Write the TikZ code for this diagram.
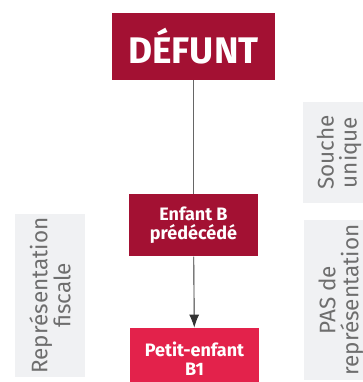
\documentclass[tikz,border=0pt]{standalone}
\usepackage{fontspec}
\setmainfont{Fira Sans}
\usetikzlibrary{arrows.meta,positioning}

\definecolor{bordeaux}{HTML}{A31133}
\definecolor{framboise}{HTML}{E3224B}
\definecolor{grisfond}{HTML}{F0F1F3}
\definecolor{gristexte}{HTML}{6E6E6E}

\begin{document}
\begin{tikzpicture}[
  x=1pt, y=1pt,
  node distance=114pt,
  titre/.style={rectangle, fill=bordeaux, text=white, inner sep=0pt, minimum width=163pt, minimum height=67pt, font=\fontsize{37}{42}\selectfont\bfseries},
  heritier/.style={rectangle, fill=#1, text=white, inner sep=0pt, minimum width=129pt, minimum height=62pt, align=center, font=\fontsize{18}{18.5}\selectfont\bfseries},
  mention/.style={rectangle, fill=grisfond, text=gristexte, inner sep=0pt, rotate=90, align=center, font=\fontsize{22.5}{23}\selectfont},
  lien/.style={draw=black!60, line width=0.9pt},
  fleche/.style={draw=black!80, line width=0.9pt, -{Latex[length=13pt, width=10pt]}}
]
\useasboundingbox (0,0) rectangle (363,-382);
\clip (0,0) rectangle (363,-382);

%% Lignee
\node[titre] (defunt) at (193.5,-46.5) {DÉFUNT};
\node[heritier=bordeaux, below=of defunt] (enfantB) {Enfant B\\prédécédé};
\node[heritier=framboise, below=71pt of enfantB, xshift=1pt] (petitB1) {Petit-enfant\\B1};

%% Mentions
\node[mention, minimum width=163pt, minimum height=70pt] (fiscale) at (50,-295.5) {Représentation\\fiscale};
\node[mention, minimum width=101pt, minimum height=72pt] (souche) at (339,-152.5) {Souche\\unique};
\node[mention, minimum width=160pt, minimum height=92pt] (civile) at (350,-300) {PAS de\\représentation\\civile};

%% Liens
\draw[lien] (defunt) -- (enfantB);
\draw[fleche] (enfantB) -- (petitB1);
\end{tikzpicture}
\end{document}
